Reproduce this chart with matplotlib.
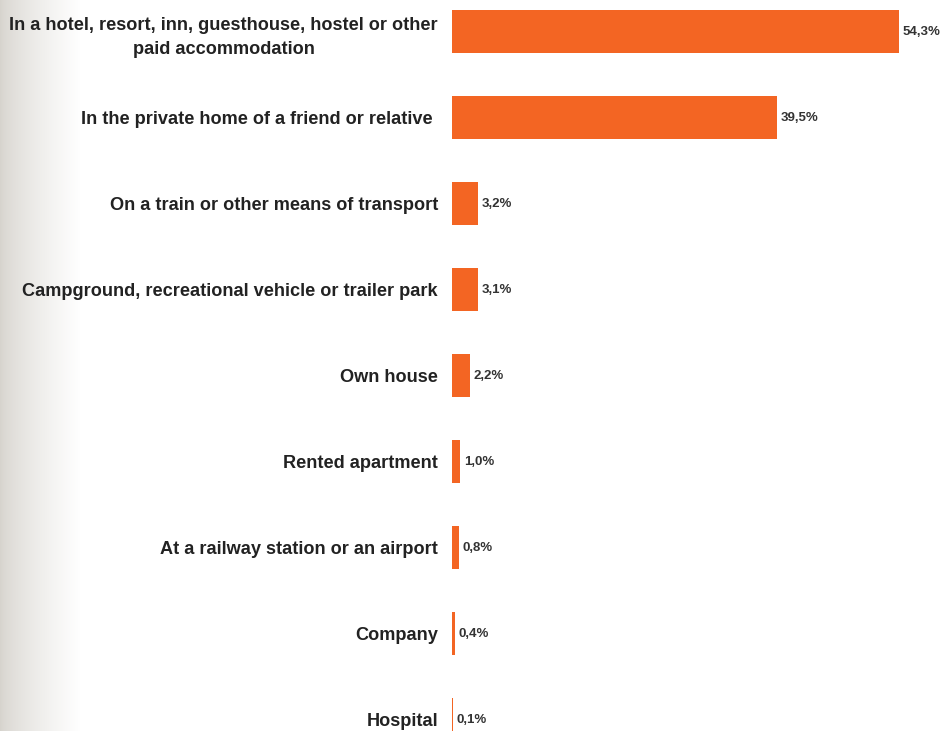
import matplotlib.pyplot as plt
import numpy as np

plt.rcParams['font.family'] = ['Liberation Sans', 'DejaVu Sans']

# data
categories = [
    "In a hotel, resort, inn, guesthouse, hostel or other\npaid accommodation",
    "In the private home of a friend or relative ",
    "On a train or other means of transport",
    "Campground, recreational vehicle or trailer park",
    "Own house",
    "Rented apartment",
    "At a railway station or an airport",
    "Company",
    "Hospital",
]
shares = [54.3, 39.5, 3.2, 3.1, 2.2, 1.0, 0.8, 0.4, 0.1]
value_labels = ["54,3%", "39,5%", "3,2%", "3,1%", "2,2%", "1,0%", "0,8%", "0,4%", "0,1%"]

W, H = 942, 731
fig = plt.figure(figsize=(W / 100, H / 100), dpi=100)
fig.patch.set_facecolor('white')

# grey fade on the left edge
bg = fig.add_axes([0, 0, 1, 1], zorder=0)
xs = np.linspace(0, 1, W)
fade = np.clip(xs * W / 80.0, 0, 1) ** 0.7
col0 = np.array([214, 211, 205]) / 255.0
row = col0[None, :] * (1 - fade[:, None]) + fade[:, None] * 1.0
bg.imshow(row[None, :, :], aspect='auto', extent=[0, 1, 0, 1])
bg.set_axis_off()

px_per_pct = 8.23
left = 452
ax = fig.add_axes([left / W, 0, (W - left) / W, 1], zorder=1)
ax.patch.set_alpha(0)
y = np.arange(len(categories))
ax.barh(y, shares, height=0.5, color='#F36523')
ax.set_xlim(0, (W - left) / px_per_pct)
ax.set_ylim((H - 31.5) / 86.0, -31.5 / 86.0)

for yi, v, lab in zip(y, shares, value_labels):
    ax.text(v + 0.45, yi, lab, va='center', ha='left', fontsize=9.5,
            fontweight='bold', color='#333333')

ax.set_yticks(y)
ax.set_yticklabels(categories, fontsize=13.1, fontweight='bold', color='#222222')
for t in ax.get_yticklabels():
    t.set_multialignment('center')
    t.set_linespacing(1.55)
ax.tick_params(axis='y', length=0, pad=10)
ax.set_xticks([])
for s in ax.spines.values():
    s.set_visible(False)

fig.savefig('out.png', dpi=100)
